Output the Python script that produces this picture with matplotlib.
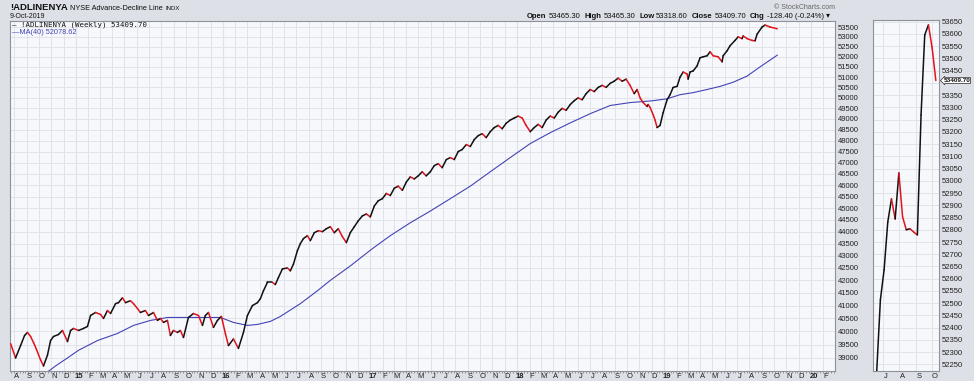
import datetime as dt
import numpy as np
import pandas as pd
import matplotlib
matplotlib.use("Agg")
import matplotlib.pyplot as plt
import matplotlib.dates as mdates
from matplotlib.collections import LineCollection
from matplotlib.transforms import ScaledTranslation
from matplotlib.ticker import FixedLocator, NullLocator, FuncFormatter

plt.rcParams["font.family"] = ["Liberation Sans", "DejaVu Sans"]

# NYSE advance-decline line, weekly (decimal year, value)
adl_t = [2014.555, 2014.589, 2014.623, 2014.650, 2014.670, 2014.691, 2014.711, 2014.731,
         2014.759, 2014.779, 2014.806, 2014.827, 2014.847, 2014.881, 2014.908, 2014.942,
         2014.963, 2014.983, 2015.017, 2015.051, 2015.078, 2015.099, 2015.133, 2015.167,
         2015.187, 2015.214, 2015.235, 2015.269, 2015.289, 2015.316, 2015.337, 2015.370,
         2015.391, 2015.418, 2015.438, 2015.472, 2015.493, 2015.527, 2015.554, 2015.574,
         2015.595, 2015.622, 2015.642, 2015.663, 2015.690, 2015.710, 2015.731, 2015.765,
         2015.799, 2015.833, 2015.860, 2015.880, 2015.901, 2015.935, 2015.962, 2015.989,
         2016.016, 2016.037, 2016.071, 2016.105, 2016.139, 2016.166, 2016.200, 2016.234,
         2016.254, 2016.275, 2016.302, 2016.336, 2016.356, 2016.377, 2016.404, 2016.438,
         2016.458, 2016.479, 2016.506, 2016.526, 2016.547, 2016.574, 2016.594, 2016.621,
         2016.649, 2016.676, 2016.703, 2016.730, 2016.757, 2016.784, 2016.812, 2016.839,
         2016.866, 2016.893, 2016.920, 2016.948, 2016.975, 2017.002, 2017.029, 2017.056,
         2017.084, 2017.111, 2017.138, 2017.165, 2017.192, 2017.220, 2017.247, 2017.274,
         2017.301, 2017.328, 2017.355, 2017.382, 2017.410, 2017.437, 2017.464, 2017.491,
         2017.519, 2017.546, 2017.573, 2017.600, 2017.627, 2017.655, 2017.682, 2017.709,
         2017.736, 2017.763, 2017.790, 2017.818, 2017.845, 2017.872, 2017.899, 2017.926,
         2017.954, 2017.981, 2018.008, 2018.035, 2018.062, 2018.090, 2018.117, 2018.144,
         2018.171, 2018.198, 2018.226, 2018.253, 2018.280, 2018.307, 2018.334, 2018.362,
         2018.389, 2018.416, 2018.443, 2018.470, 2018.498, 2018.525, 2018.552, 2018.579,
         2018.606, 2018.634, 2018.661, 2018.688, 2018.715, 2018.742, 2018.769, 2018.797,
         2018.817, 2018.837, 2018.858, 2018.885, 2018.892, 2018.905, 2018.926, 2018.939,
         2018.953, 2018.973, 2018.994, 2019.021, 2019.041, 2019.062, 2019.089, 2019.109,
         2019.130, 2019.157, 2019.164, 2019.177, 2019.198, 2019.225, 2019.245, 2019.266,
         2019.293, 2019.313, 2019.334, 2019.368, 2019.395, 2019.402, 2019.429, 2019.449,
         2019.483, 2019.504, 2019.531, 2019.538, 2019.565, 2019.599, 2019.619, 2019.633,
         2019.667, 2019.687, 2019.721, 2019.770]
adl_v = [39538, 39000, 39464, 39846, 39962, 39808, 39577, 39321,
         38926, 38704, 39107, 39654, 39808, 39885, 40038, 39615,
         40038, 40115, 40038, 40115, 40192, 40615, 40731, 40654,
         40500, 40808, 40692, 41077, 41115, 41308, 41115, 41192,
         41077, 40885, 40731, 40808, 40615, 40731, 40423, 40500,
         40346, 40423, 39846, 40038, 39962, 40038, 39769, 40538,
         40692, 40615, 40231, 40615, 40731, 40154, 40423, 40577,
         39923, 39464, 39714, 39357, 39962, 40615, 41000, 41115,
         41269, 41583, 41917, 41917, 41833, 42115, 42462, 42500,
         42385, 42654, 43208, 43500, 43708, 43833, 43625, 43958,
         44042, 44000, 44125, 44208, 43958, 44125, 43792, 43542,
         43958, 44208, 44458, 44667, 44750, 44625, 45091, 45318,
         45409, 45636, 45545, 45864, 45955, 45773, 46136, 46364,
         46273, 46409, 46591, 46409, 46591, 46864, 46955, 46773,
         47136, 47227, 47136, 47500, 47591, 47818, 47727, 48045,
         48227, 48318, 48136, 48409, 48600, 48700, 48545, 48800,
         48950, 49045, 49136, 49045, 48700, 48409, 48600, 48750,
         48600, 48950, 49136, 49045, 49318, 49500, 49409, 49682,
         49864, 50000, 49909, 50200, 50400, 50300, 50500, 50600,
         50500, 50700, 50800, 50950, 50800, 50900, 50600, 50200,
         50400, 50000, 49773, 49591, 49682, 49545, 49200, 48950,
         48600, 48700, 49300, 49909, 50150, 50500, 50550, 51000,
         51250, 51150, 50900, 51250, 51300, 51550, 51950, 52000,
         52050, 52250, 52050, 52000, 51750, 52050, 52300, 52550,
         52818, 53000, 52909, 53045, 52909, 52818, 52800, 53136,
         53500, 53600, 53500, 53409.70]

# 40-week moving average
ma_t = [2014.799, 2014.861, 2014.942, 2015.017, 2015.146, 2015.282, 2015.391, 2015.506,
        2015.622, 2015.778, 2015.982, 2016.071, 2016.166, 2016.234, 2016.322, 2016.390,
        2016.526, 2016.642, 2016.730, 2016.866, 2017.016, 2017.138, 2017.274, 2017.410,
        2017.546, 2017.682, 2017.818, 2017.954, 2018.090, 2018.226, 2018.362, 2018.498,
        2018.634, 2018.769, 2018.926, 2019.021, 2019.109, 2019.198, 2019.293, 2019.381,
        2019.470, 2019.565, 2019.653, 2019.770]
ma_v = [38450, 38704, 39000, 39286, 39654, 39923, 40231, 40423,
        40538, 40538, 40538, 40346, 40231, 40269, 40385, 40577,
        41077, 41583, 42000, 42583, 43292, 43833, 44375, 44875,
        45409, 45955, 46591, 47227, 47864, 48364, 48818, 49250,
        49636, 49773, 49864, 49955, 50150, 50250, 50400, 50550,
        50750, 51050, 51500, 52078.62]

# small panel on the right: last weeks
zoom_dates = pd.date_range("2019-06-19", periods=17, freq="7D")
zoom_v = [52220, 52514, 52636, 52832, 52926, 52844, 53032, 52853, 52800,
          52804, 52791, 52779, 53269, 53596, 53637, 53543, 53409.70]

y_ticks = list(range(39000, 53501, 500))
zoom_ticks = list(range(52250, 53651, 50))

W, H = 974, 381
fig = plt.figure(figsize=(W / 100, H / 100), dpi=100, facecolor="#dde0e6")

UP, DOWN = "#111111", "#e3121b"
MA_COL = "#4444b4"
GRID = "#e1e3e9"
LAB = "#222222"


def colored_line(ax, x, y, lw=1.1):
    pts = np.column_stack([x, y])
    segs = np.stack([pts[:-1], pts[1:]], axis=1)
    cols = [UP if b >= a else DOWN for a, b in zip(y[:-1], y[1:])]
    ax.add_collection(LineCollection(segs, colors=cols, linewidths=lw,
                                     capstyle="round", zorder=3))


def style_axes(ax):
    ax.set_facecolor("#f7f8fb")
    for s in ax.spines.values():
        s.set_color("#8e939b")
        s.set_linewidth(0.8)
    ax.grid(True, color=GRID, lw=0.7, zorder=0)
    ax.set_axisbelow(True)
    ax.yaxis.tick_right()
    ax.tick_params(axis="y", length=0, pad=2, labelsize=5.5, labelcolor=LAB)
    ax.tick_params(axis="x", which="major", length=0, labelbottom=False)


def month_labels(ax, xs, labels, bolds, dx=2.5):
    tr = ax.get_xaxis_transform() + ScaledTranslation(dx / 100, -1.5 / 100, fig.dpi_scale_trans)
    for x, s, b in zip(xs, labels, bolds):
        ax.text(x, 0, s, transform=tr, ha="center", va="top", fontsize=5.5,
                color=LAB, fontweight="bold" if b else "normal", clip_on=False)


def dec_year(d):
    a = dt.date(d.year, 1, 1)
    b = dt.date(d.year + 1, 1, 1)
    return d.year + (d - a).days / (b - a).days


# ---- main panel
ax = fig.add_axes([10 / W, 1 - 371 / H, 825 / W, 350 / H])
style_axes(ax)
ax.set_xlim(2014.551, 2020.163)
ax.set_yscale("log")
ax.set_ylim(38517, 53808)
ax.yaxis.set_major_locator(FixedLocator(y_ticks))
ax.yaxis.set_minor_locator(NullLocator())
ax.yaxis.set_major_formatter(FuncFormatter(lambda v, p: f"{v:.0f}"))

months = []
d = dt.date(2014, 8, 1)
while d <= dt.date(2020, 2, 1):
    months.append(d)
    d = dt.date(d.year + (d.month == 12), d.month % 12 + 1, 1)
mx = [dec_year(m) for m in months]
ax.set_xticks(mx)
ax.set_xticks(np.arange(2014.56, 2020.16, 7 / 365.25), minor=True)
ax.tick_params(axis="x", which="minor", length=1.5, width=0.5, color="#777777")
for m, x in zip(months, mx):
    if m.month == 1:
        ax.axvline(x, color="#c3c7cf", lw=0.8, zorder=0.5)
month_labels(ax, mx,
             [f"{m.year % 100}" if m.month == 1 else "JFMAMJJASOND"[m.month - 1] for m in months],
             [m.month == 1 for m in months])

ax.plot(ma_t, ma_v, color=MA_COL, lw=0.8, zorder=2)
colored_line(ax, np.array(adl_t), np.array(adl_v))

# ---- right panel
ax2 = fig.add_axes([873 / W, 1 - 371 / H, 66 / W, 351 / H])
style_axes(ax2)
ax2.set_xlim(mdates.date2num(dt.date(2019, 6, 12)), mdates.date2num(dt.date(2019, 10, 15)))
ax2.set_ylim(52223, 53657)
ax2.yaxis.set_major_locator(FixedLocator(zoom_ticks))
ax2.yaxis.set_major_formatter(FuncFormatter(lambda v, p: "" if round(v) == 53400 else f"{v:.0f}"))
zm = [dt.date(2019, k, 1) for k in (7, 8, 9, 10)]
zx = mdates.date2num(zm)
ax2.set_xticks(zx)
month_labels(ax2, zx, ["J", "A", "S", "O"], [False] * 4, dx=3)
colored_line(ax2, mdates.date2num(zoom_dates.to_pydatetime()), np.array(zoom_v))
ax2.annotate("53409.70", xy=(1.0, zoom_v[-1]), xycoords=("axes fraction", "data"),
             xytext=(3.2, 0), textcoords="offset points", ha="left", va="center",
             fontsize=4.6, fontweight="bold", color="#111111",
             bbox=dict(boxstyle="larrow,pad=0.06", fc="white", ec="#444444", lw=0.6))

# ---- texts
def px(x, y):
    return x / W, 1 - y / H


fig.text(*px(12, 25), "\u2014 !ADLINENYA (Weekly) 53409.70", family="DejaVu Sans Mono",
         fontsize=5.3, va="center", color="#111111")
fig.text(*px(12, 32.7), "\u2014MA(40) 52078.62", fontsize=5.3, va="center", color=MA_COL)

r = fig.canvas.get_renderer()


def text_run(x, y, pieces):
    for s, size, weight, gap in pieces:
        t = fig.text(*px(x, y), s, fontsize=size, fontweight=weight, va="baseline", color="#111111")
        x += t.get_window_extent(r).width + gap


text_run(10, 9.5, [("!ADLINENYA", 6.8, "bold", 2.5),
                   ("NYSE Advance-Decline Line", 5.3, "normal", 2.5),
                   ("INDX", 4.3, "normal", 0)])
fig.text(*px(10, 18.3), "9-Oct-2019", fontsize=5, va="baseline", color="#111111")
fig.text(*px(835, 9), "\u00a9 StockCharts.com", fontsize=5, ha="right", va="baseline", color="#666666")
text_run(527, 18.5, [("Open", 5.5, "bold", 2), ("53465.30", 5.5, "normal", 4),
                     ("High", 5.5, "bold", 2), ("53465.30", 5.5, "normal", 4),
                     ("Low", 5.5, "bold", 2), ("53318.60", 5.5, "normal", 4),
                     ("Close", 5.5, "bold", 2), ("53409.70", 5.5, "normal", 4),
                     ("Chg", 5.5, "bold", 2), ("-128.40 (-0.24%) \u25be", 5.5, "normal", 0)])

fig.savefig("out.png", dpi=100, facecolor=fig.get_facecolor())
